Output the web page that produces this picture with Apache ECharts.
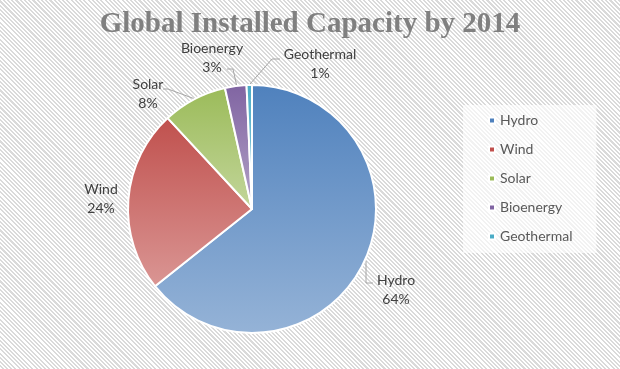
<!DOCTYPE html>
<html>
<head>
<meta charset="utf-8">
<script src="https://cdn.jsdelivr.net/npm/echarts@6/dist/echarts.min.js"></script>
<style>
html,body{margin:0;padding:0;}
#c{width:620px;height:369px;background:repeating-linear-gradient(45deg,#ffffff 0px,#ffffff 1.5px,#dadada 1.5px,#dadada 3px);}
</style>
</head>
<body>
<div id="c"></div>
<script>
const titleText = 'Global Installed Capacity by 2014';
const categories = ['Hydro', 'Wind', 'Solar', 'Bioenergy', 'Geothermal'];
const values = [64.3, 23.8, 8.4, 2.8, 0.7];
const topColors = ['#4F81BD', '#C0504D', '#9BBB59', '#8064A2', '#4BACC6'];
const bottomColors = ['#95B3D7', '#DA9694', '#C3D69B', '#B3A2C7', '#93CDDD'];

// pie layout (style)
const CX = 252, CY = 209, R = 124;
// label placement relative to the pie centre (style): text centre and leader line points
const labelSpots = [
  {x: 144, y: 81, line: [[114, 52], [114, 74], [121, 74]]},
  {x: -151, y: -10, line: null},
  {x: -104, y: -115, line: [[-57, -110], [-84, -120], [-89, -120]]},
  {x: -40, y: -151, line: [[-15, -122], [-19, -140], [-25, -140]]},
  {x: 68, y: -145, line: [[-2, -125], [20, -150], [28, -150]]}
];

const chart = echarts.init(document.getElementById('c'), null, {renderer: 'canvas'});
const pieData = categories.map((name, i) => ({
  name: name,
  value: values[i],
  itemStyle: {
    color: new echarts.graphic.LinearGradient(0, 0, 0, 1, [
      {offset: 0, color: topColors[i]},
      {offset: 1, color: bottomColors[i]}
    ])
  },
  labelLine: {show: labelSpots[i].line !== null}
}));

chart.setOption({
  backgroundColor: 'transparent',
  animation: false,
  title: {
    text: titleText,
    left: 'center',
    top: 5,
    textStyle: {fontFamily: 'Liberation Serif', fontWeight: 'bold', fontSize: 29, color: '#808080'}
  },
  legend: {
    orient: 'vertical',
    left: 463,
    top: 105,
    backgroundColor: 'rgba(255,255,255,0.65)',
    padding: [8, 24, 9, 25],
    itemWidth: 6,
    itemHeight: 6,
    itemGap: 14,
    icon: 'rect',
    data: categories.map((n, i) => ({name: n, itemStyle: {color: topColors[i]}})),
    textStyle: {fontFamily: 'Lato', fontSize: 14, lineHeight: 15, color: '#595959'}
  },
  series: [{
    type: 'pie',
    center: [CX, CY],
    radius: R,
    startAngle: 90,
    clockwise: true,
    percentPrecision: 0,
    avoidLabelOverlap: false,
    data: pieData,
    itemStyle: {borderColor: '#ffffff', borderWidth: 2},
    label: {
      show: true,
      position: 'outside',
      formatter: '{b}\n{d}%',
      fontFamily: 'Lato',
      fontSize: 14,
      lineHeight: 19,
      color: '#404040'
    },
    labelLine: {
      show: true,
      length: 10,
      length2: 6,
      lineStyle: {color: '#a6a6a6', width: 1}
    },
    labelLayout: function (params) {
      const s = labelSpots[params.dataIndex];
      const out = {x: CX + s.x, y: CY + s.y, align: 'center', verticalAlign: 'middle'};
      if (s.line) {
        out.labelLinePoints = s.line.map(p => [CX + p[0], CY + p[1]]);
      }
      return out;
    }
  }]
});
</script>
</body>
</html>
